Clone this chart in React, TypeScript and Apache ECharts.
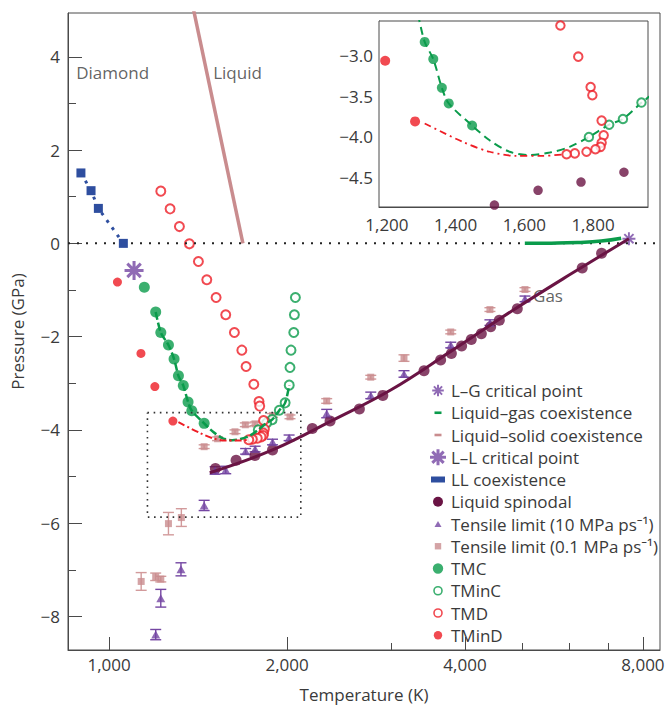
import { useEffect, useRef } from 'react';
import * as echarts from 'echarts';

// ---------- data (T in K, P in GPa) ----------
const llCoexistence = [[896, 1.51], [932, 1.13], [959, 0.75], [1057, 0.0]];
const llCritical = [[1102, -0.58]];
const lgCritical = [[7575, 0.1]];
const liquidGas = [[5050, 0.0], [5600, 0.005], [6200, 0.02], [6800, 0.05], [7350, 0.11]];
const liquidSolid = [[1390, 5.0], [1684, 0.0]];
const spinodal = [
  [1513, -4.83], [1640, -4.65], [1765, -4.55], [1890, -4.43], [2207, -3.97], [2365, -3.81],
  [2651, -3.55], [2904, -3.26], [3410, -2.73], [3638, -2.5], [3793, -2.36], [3948, -2.2],
  [4099, -2.06], [4263, -1.94], [4421, -1.79], [4572, -1.65], [4904, -1.4], [6315, -0.53], [6810, -0.21],
];
const spinodalFit = [
  [1480, -4.92], [1890, -4.43], [2400, -3.78], [3000, -3.14], [3800, -2.3], [4800, -1.45], [6000, -0.68], [7575, 0.1],
];
const tensile10 = [
  [5053, -1.19], [4408, -1.7], [3784, -2.18], [3154, -2.8], [2771, -3.26], [2334, -3.65], [2016, -4.17],
  [1890, -4.26], [1766, -4.41], [1702, -4.46], [1575, -4.86], [1511, -4.87], [1448, -5.62], [1323, -6.99],
  [1223, -7.61], [1199, -8.39],
];
const tensile10Err = [0.06, 0.06, 0.06, 0.07, 0.07, 0.09, 0.06, 0.06, 0.06, 0.06, 0.08, 0.08, 0.11, 0.14, 0.19, 0.11];
const tensile01 = [
  [5053, -0.99], [4408, -1.42], [3784, -1.9], [3154, -2.46], [2771, -2.87], [2334, -3.38], [2023, -3.72],
  [1890, -3.69], [1765, -3.87], [1700, -3.89], [1633, -4.04], [1526, -4.19], [1448, -4.36], [1325, -5.88],
  [1260, -6.01], [1223, -7.2], [1199, -7.15], [1133, -7.25],
];
const tensile01Err = [0.04, 0.04, 0.04, 0.07, 0.04, 0.05, 0.04, 0.04, 0.04, 0.04, 0.04, 0.04, 0.04, 0.19, 0.24, 0.06, 0.08, 0.19];
const tmc = [
  [1147, -0.94], [1199, -1.47], [1223, -1.91], [1260, -2.18], [1288, -2.48], [1310, -2.84], [1335, -3.05],
  [1360, -3.4], [1380, -3.59], [1448, -3.86],
];
const tmcCurve = [
  [1199, -1.47], [1223, -1.91], [1260, -2.18], [1288, -2.48], [1310, -2.84], [1335, -3.05], [1360, -3.4],
  [1380, -3.59], [1448, -3.86], [1499, -4.04], [1557, -4.18], [1616, -4.22], [1674, -4.19], [1732, -4.12],
  [1788, -4.0], [1847, -3.85], [1887, -3.78], [1941, -3.58], [1985, -3.42], [2017, -3.04],
];
const tminc = [
  [2066, -1.16], [2058, -1.53], [2053, -1.91], [2031, -2.29], [2023, -2.66], [2017, -3.04], [1985, -3.42],
  [1941, -3.58], [1887, -3.78], [1847, -3.85], [1788, -4.0],
];
const tmd = [
  [1223, 1.12], [1268, 0.74], [1315, 0.36], [1367, -0.01], [1416, -0.39], [1463, -0.78], [1517, -1.16],
  [1575, -1.53], [1629, -1.91], [1677, -2.29], [1705, -2.64], [1757, -3.02], [1793, -3.39], [1798, -3.49],
  [1825, -3.8], [1831, -3.98], [1825, -4.07], [1822, -4.12], [1807, -4.15], [1781, -4.18], [1747, -4.2], [1723, -4.21],
];
const tmind = [[1033, -0.83], [1132, -2.36], [1195, -3.07], [1282, -3.81]];
const tmindCurve = [[1310, -3.835], [1421, -4.06], [1499, -4.18], [1577, -4.23], [1654, -4.23], [1720, -4.21]];
const zeroLine = [[852, 0], [8550, 0]];
const zoomBox = [[1161, -3.63], [2110, -3.63], [2110, -5.87], [1161, -5.87], [1161, -3.63]];
const notes = [
  { name: 'Diamond', value: [1014, 3.66] },
  { name: 'Liquid', value: [1649, 3.66] },
  { name: 'Gas', value: [5527, -1.11] },
];
const xMajorTicks = [1000, 2000, 4000, 8000];
const xMinorTicks = [3000, 5000, 6000, 7000];
const yMajorTicks = [-8, -6, -4, -2, 0, 2, 4];
const yMinorTicks = [-7, -5, -3, -1, 1, 3];
const insetXMajor = [1200, 1400, 1600, 1800];
const insetXMinor = [1300, 1500, 1700, 1900];
const insetYMajor = [-4.5, -4.0, -3.5, -3.0];
const insetYMinor = [-4.8, -4.7, -4.6, -4.4, -4.3, -4.2, -4.1, -3.9, -3.8, -3.7, -3.6, -3.4, -3.3, -3.2, -3.1, -2.9, -2.8, -2.7, -2.6];
const legendNames = [
  'L–G critical point', 'Liquid–gas coexistence', 'Liquid–solid coexistence', 'L–L critical point',
  'LL coexistence', 'Liquid spinodal', 'Tensile limit (10 MPa ps⁻¹)', 'Tensile limit (0.1 MPa ps⁻¹)',
  'TMC', 'TMinC', 'TMD', 'TMinD',
];

// ---------- styling ----------
const C = {
  purple: '#7446A2', maroon: '#6A1444', green: '#0A9B4B', red: '#EE1D25', blue: '#2E4E9F',
  pink: '#C98C8E', pinkBar: '#D29A9B', text: '#3a3a3a', axis: '#4a4a4a',
};
const FONT = "'Open Sans', 'Noto Sans', sans-serif";

const f = (n: number) => Math.round(n * 100) / 100;
function asterisk(cx: number, cy: number, r: number, t: number) {
  let s = '';
  [0, 45, 90, 135].forEach((deg) => {
    const a = (deg * Math.PI) / 180;
    const dx = Math.cos(a), dy = Math.sin(a);
    const nx = -dy, ny = dx;
    const pts = [
      [cx - r * dx - t * nx, cy - r * dy - t * ny],
      [cx + r * dx - t * nx, cy + r * dy - t * ny],
      [cx + r * dx + t * nx, cy + r * dy + t * ny],
      [cx - r * dx + t * nx, cy - r * dy + t * ny],
    ];
    s += 'M' + pts.map((p) => f(p[0]) + ',' + f(p[1])).join('L') + 'Z';
  });
  return s;
}
const rectP = (x: number, y: number, w: number, h: number) => `M${x},${y}L${x + w},${y}L${x + w},${y + h}L${x},${y + h}Z`;
const circleP = (cx: number, cy: number, r: number, sweep = 1) =>
  `M${cx - r},${cy}A${r},${r} 0 1,${sweep} ${cx + r},${cy}A${r},${r} 0 1,${sweep} ${cx - r},${cy}Z`;
const ringP = (cx: number, cy: number, ro: number, ri: number) => circleP(cx, cy, ro, 1) + circleP(cx, cy, ri, 0);
const PAD = 'M0,0L0,0M16,16L16,16';
const legendIcons = [
  PAD + asterisk(8, 8, 5.8, 1.0),
  PAD + rectP(4.5, 6.7, 7, 2.6),
  PAD + rectP(4.5, 6.7, 7, 2.6),
  PAD + asterisk(8, 8, 8, 1.5),
  PAD + rectP(1, 5, 14, 6),
  PAD + circleP(8, 8, 5),
  PAD + 'M4.5,11L11.5,11L8,5Z',
  PAD + rectP(4.8, 4.8, 6.4, 6.4),
  PAD + circleP(8, 8, 5.2),
  PAD + ringP(8, 8, 4.8, 3.2),
  PAD + ringP(8, 8, 4.8, 3.2),
  PAD + circleP(8, 8, 4.2),
];
const bigStar = 'path://' + asterisk(0, 0, 10, 1.6);
const smallStar = 'path://' + asterisk(0, 0, 10, 1.5);

const minus = (s: string) => s.replace('-', '−');

function errorBars(color: string, cap: number) {
  return (params: any, api: any) => {
    const x = api.value(0);
    const lo = api.coord([x, api.value(2)]);
    const hi = api.coord([x, api.value(3)]);
    const style = { stroke: color, lineWidth: 1.4, fill: 'none' };
    return {
      type: 'group',
      children: [
        { type: 'line', shape: { x1: lo[0], y1: lo[1], x2: hi[0], y2: hi[1] }, style },
        { type: 'line', shape: { x1: lo[0] - cap, y1: lo[1], x2: lo[0] + cap, y2: lo[1] }, style },
        { type: 'line', shape: { x1: hi[0] - cap, y1: hi[1], x2: hi[0] + cap, y2: hi[1] }, style },
      ],
    };
  };
}

const axisLbl = { color: C.text, fontSize: 17, fontFamily: FONT };

function buildOption(): any {
  const main = { xAxisIndex: 0, yAxisIndex: 0 };
  const ins = { xAxisIndex: 2, yAxisIndex: 2 };
  return {
    animation: false,
    textStyle: { fontFamily: FONT },
    grid: [
      { left: 68, top: 13, right: 10, bottom: 53, show: true, borderColor: C.axis, borderWidth: 1 },
      { left: 379, top: 21, width: 269, height: 186, show: true, borderColor: C.axis, borderWidth: 1, backgroundColor: '#fff', z: 5 },
    ],
    xAxis: [
      {
        type: 'log', logBase: 2, gridIndex: 0, min: 852, max: 8550, position: 'bottom',
        name: 'Temperature (K)', nameLocation: 'middle', nameGap: 36,
        nameTextStyle: { color: C.text, fontSize: 17, fontFamily: FONT },
        axisLine: { onZero: false, lineStyle: { color: C.axis } },
        axisTick: { inside: true, length: 13, customValues: xMajorTicks, lineStyle: { color: C.axis } },
        axisLabel: { ...axisLbl, margin: 6, customValues: xMajorTicks, formatter: (v: number) => Math.round(v).toLocaleString('en-US') },
        splitLine: { show: false }, minorTick: { show: false },
      },
      {
        type: 'log', logBase: 2, gridIndex: 0, min: 852, max: 8550, position: 'bottom',
        axisLine: { show: false, onZero: false },
        axisTick: { inside: true, length: 7, customValues: xMinorTicks, lineStyle: { color: C.axis } },
        axisLabel: { show: false }, splitLine: { show: false },
      },
      {
        type: 'value', gridIndex: 1, min: 1177, max: 1960, position: 'bottom',
        axisLine: { onZero: false, lineStyle: { color: C.axis } },
        axisTick: { inside: true, length: 9, customValues: insetXMajor, lineStyle: { color: C.axis } },
        axisLabel: { ...axisLbl, margin: 9, customValues: insetXMajor, formatter: (v: number) => v.toLocaleString('en-US') },
        splitLine: { show: false },
      },
      {
        type: 'value', gridIndex: 1, min: 1177, max: 1960, position: 'bottom',
        axisLine: { show: false, onZero: false },
        axisTick: { inside: true, length: 5, customValues: insetXMinor, lineStyle: { color: C.axis } },
        axisLabel: { show: false }, splitLine: { show: false },
      },
    ],
    yAxis: [
      {
        type: 'value', gridIndex: 0, min: -8.72, max: 4.94, position: 'left',
        name: 'Pressure (GPa)', nameLocation: 'middle', nameGap: 42,
        nameTextStyle: { color: C.text, fontSize: 17, fontFamily: FONT },
        axisLine: { show: true, onZero: false, lineStyle: { color: C.axis } },
        axisTick: { show: true, inside: true, length: 14, customValues: yMajorTicks, lineStyle: { color: C.axis } },
        axisLabel: { ...axisLbl, margin: 8, customValues: yMajorTicks, formatter: (v: number) => minus(String(v)) },
        splitLine: { show: false },
      },
      {
        type: 'value', gridIndex: 0, min: -8.72, max: 4.94, position: 'left',
        axisLine: { show: false, onZero: false },
        axisTick: { show: true, inside: true, length: 8, customValues: yMinorTicks, lineStyle: { color: C.axis } },
        axisLabel: { show: false }, splitLine: { show: false },
      },
      {
        type: 'value', gridIndex: 1, min: -4.854, max: -2.585, position: 'left',
        axisLine: { show: true, onZero: false, lineStyle: { color: C.axis } },
        axisTick: { show: true, inside: true, length: 9, customValues: insetYMajor, lineStyle: { color: C.axis } },
        axisLabel: { ...axisLbl, margin: 6, customValues: insetYMajor, formatter: (v: number) => minus(v.toFixed(1)) },
        splitLine: { show: false },
      },
      {
        type: 'value', gridIndex: 1, min: -4.854, max: -2.585, position: 'left',
        axisLine: { show: false, onZero: false },
        axisTick: { show: true, inside: true, length: 5, customValues: insetYMinor, lineStyle: { color: C.axis } },
        axisLabel: { show: false }, splitLine: { show: false },
      },
    ],
    legend: {
      orient: 'vertical', left: 425, top: 377, itemWidth: 16, itemHeight: 16, itemGap: 5.25,
      selectedMode: false,
      textStyle: { color: C.text, fontSize: 17, fontFamily: FONT },
      itemStyle: { borderWidth: 0 },
      data: legendNames.map((n, i) => ({ name: n, icon: 'path://' + legendIcons[i] })),
    },
    series: [
      { type: 'line', name: 'zero', ...main, data: zeroLine, symbol: 'none', silent: true,
        lineStyle: { color: '#222', width: 2, type: [2, 7] } },
      { type: 'line', name: 'zoom box', ...main, data: zoomBox, symbol: 'none', silent: true,
        lineStyle: { color: '#333', width: 1.6, type: [1.6, 4.6] } },
      { type: 'line', name: 'Liquid–solid coexistence', ...main, data: liquidSolid, symbol: 'none',
        lineStyle: { color: C.pink, width: 3.5 }, itemStyle: { color: C.pink } },
      { type: 'line', name: 'Liquid–gas coexistence', ...main, data: liquidGas, symbol: 'none', smooth: true,
        lineStyle: { color: C.green, width: 3.5 }, itemStyle: { color: C.green } },
      { type: 'line', name: 'Liquid spinodal', ...main, data: spinodalFit, symbol: 'none', smooth: 0.4,
        lineStyle: { color: C.maroon, width: 3 }, itemStyle: { color: C.maroon } },
      { type: 'scatter', name: 'Liquid spinodal', ...main, data: spinodal, symbol: 'circle', symbolSize: 11,
        itemStyle: { color: C.maroon } },
      { type: 'custom', name: 'err01', ...main, clip: true, encode: { x: 0, y: [1, 2, 3] },
        data: tensile01.map((p, i) => [p[0], p[1], p[1] - tensile01Err[i], p[1] + tensile01Err[i]]),
        renderItem: errorBars(C.pinkBar, 5.5) },
      { type: 'scatter', name: 'Tensile limit (0.1 MPa ps⁻¹)', ...main, data: tensile01, symbol: 'rect', symbolSize: 7,
        itemStyle: { color: C.pink } },
      { type: 'custom', name: 'err10', ...main, clip: true, encode: { x: 0, y: [1, 2, 3] },
        data: tensile10.map((p, i) => [p[0], p[1], p[1] - tensile10Err[i], p[1] + tensile10Err[i]]),
        renderItem: errorBars(C.purple, 5.5) },
      { type: 'scatter', name: 'Tensile limit (10 MPa ps⁻¹)', ...main, data: tensile10, symbol: 'triangle', symbolSize: [9, 8],
        itemStyle: { color: C.purple } },
      { type: 'line', name: 'TMC curve', ...main, data: tmcCurve, symbol: 'none', smooth: 0.3,
        lineStyle: { color: C.green, width: 2.5, type: [8, 3] } },
      { type: 'line', name: 'TMinD curve', ...main, data: tmindCurve, symbol: 'none', smooth: 0.3,
        lineStyle: { color: C.red, width: 2, type: [7, 3, 2, 3] } },
      { type: 'scatter', name: 'TMC', ...main, data: tmc, symbol: 'circle', symbolSize: 11, itemStyle: { color: C.green } },
      { type: 'scatter', name: 'TMinC', ...main, data: tminc, symbol: 'emptyCircle', symbolSize: 9,
        itemStyle: { color: C.green, borderColor: C.green, borderWidth: 2 } },
      { type: 'scatter', name: 'TMinD', ...main, data: tmind, symbol: 'circle', symbolSize: 9, itemStyle: { color: C.red } },
      { type: 'scatter', name: 'TMD', ...main, data: tmd, symbol: 'emptyCircle', symbolSize: 9,
        itemStyle: { color: C.red, borderColor: C.red, borderWidth: 2 } },
      { type: 'line', name: 'LL coexistence', ...main, data: llCoexistence, symbol: 'rect', symbolSize: 9, showAllSymbol: true,
        lineStyle: { color: C.blue, width: 3, type: [3, 6] }, itemStyle: { color: C.blue } },
      { type: 'scatter', name: 'L–L critical point', ...main, data: llCritical, symbol: bigStar, symbolSize: 19,
        itemStyle: { color: C.purple } },
      { type: 'scatter', name: 'L–G critical point', ...main, data: lgCritical, symbol: smallStar, symbolSize: 13,
        itemStyle: { color: C.purple } },
      { type: 'scatter', name: 'notes', ...main, data: notes, symbolSize: 1, silent: true,
        itemStyle: { color: 'rgba(0,0,0,0)' },
        label: { show: true, position: 'inside', formatter: '{b}', fontSize: 17, color: C.text, fontFamily: FONT } },
      // ----- inset -----
      { type: 'line', name: 'TMC curve', ...ins, data: tmcCurve, symbol: 'none', smooth: 0.3, z: 6,
        lineStyle: { color: C.green, width: 2, type: [8, 5] } },
      { type: 'line', name: 'TMinD curve', ...ins, data: tmindCurve, symbol: 'none', smooth: 0.3, z: 6,
        lineStyle: { color: C.red, width: 1.8, type: [7, 4, 2, 4] } },
      { type: 'scatter', name: 'Liquid spinodal', ...ins, data: spinodal, symbol: 'circle', symbolSize: 9.5, z: 6,
        itemStyle: { color: C.maroon } },
      { type: 'scatter', name: 'TMC', ...ins, data: tmc, symbol: 'circle', symbolSize: 10, z: 6, itemStyle: { color: C.green } },
      { type: 'scatter', name: 'TMinC', ...ins, data: tminc, symbol: 'emptyCircle', symbolSize: 8.5, z: 6,
        itemStyle: { color: C.green, borderColor: C.green, borderWidth: 1.6 } },
      { type: 'scatter', name: 'TMinD', ...ins, data: tmind, symbol: 'circle', symbolSize: 10, z: 6, itemStyle: { color: C.red } },
      { type: 'scatter', name: 'TMD', ...ins, data: tmd, symbol: 'emptyCircle', symbolSize: 8.5, z: 6,
        itemStyle: { color: C.red, borderColor: C.red, borderWidth: 1.6 } },
    ],
  };
}

export default function App() {
  const ref = useRef<HTMLDivElement>(null);
  useEffect(() => {
    if (!ref.current) return;
    const chart = echarts.init(ref.current, null, { renderer: 'svg' });
    chart.setOption(buildOption());
    return () => chart.dispose();
  }, []);
  return <div ref={ref} style={{ position: 'fixed', left: 0, top: 0, width: 670, height: 708, background: '#fff' }} />;
}
